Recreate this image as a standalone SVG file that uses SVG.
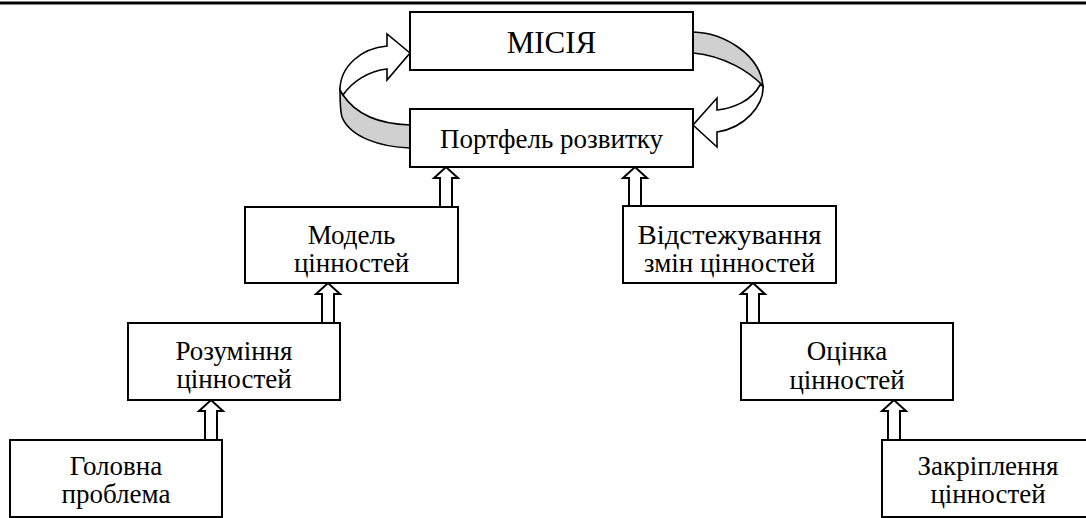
<svg xmlns="http://www.w3.org/2000/svg" width="1086" height="518" viewBox="0 0 1086 518">
<style>
.box{fill:#fff;stroke:#000;stroke-width:2}
.t{font-family:"Liberation Serif","Times New Roman",serif;font-size:27px;fill:#000;text-anchor:middle}
.big{font-size:31px}
.ha{fill:#fff;stroke:#000;stroke-width:2;stroke-linejoin:miter}
.cv{stroke:#000;stroke-width:1.6;stroke-linejoin:miter}
</style>
<rect x="0" y="0" width="1086" height="518" fill="#fff"/>
<line x1="0" y1="3" x2="1086" y2="3" stroke="#000" stroke-width="3"/>
<g id="connectors">
  <path class="cv" fill="#d0d0d0" d="M343,95 C355,113 378,124 410,125 L410,148 C380,147 350,137 342,117 C340,110 340,98 340,90 Z"/>
  <path class="cv" fill="#fff" d="M387,69 L387,80 L410,53 L387,34 L387,46 C362,48 340,66 340,90 L343,95 C352,82 368,71 387,69 Z"/>
  <path class="cv" fill="#d0d0d0" d="M693,32 C725,33 760,55 763,86 C750,72 725,56 693,53 Z"/>
  <path class="cv" fill="#fff" d="M763,86 C764,105 745,128 717,132 L717,147 L693,125 L717,98 L717,110 C735,108 752,100 760,85 Z"/>
  <path class="ha" d="M440,207 L440,178 L434,178 L446,167 L458,178 L452,178 L452,207"/>
  <path class="ha" d="M629,206 L629,178 L623,178 L635,167 L647,178 L641,178 L641,206"/>
  <path class="ha" d="M322,323 L322,294 L316,294 L328,283 L340,294 L334,294 L334,323"/>
  <path class="ha" d="M747,323 L747,294 L741,294 L753,283 L765,294 L759,294 L759,323"/>
  <path class="ha" d="M205,440 L205,411 L199,411 L211,400 L223,411 L217,411 L217,440"/>
  <path class="ha" d="M888,440 L888,411 L882,411 L894,400 L906,411 L900,411 L900,440"/>
</g>
<g id="misiia">
  <rect class="box" x="410" y="12" width="283" height="58"/>
  <text class="t big" x="551.5" y="53">МІСІЯ</text>
</g>
<g id="portfel">
  <rect class="box" x="410" y="109" width="283" height="58"/>
  <text class="t" x="551.5" y="148">Портфель розвитку</text>
</g>
<g id="model">
  <rect class="box" x="245" y="207" width="213" height="76"/>
  <text class="t" x="351.5" y="244">Модель</text>
  <text class="t" x="351.5" y="272">цінностей</text>
</g>
<g id="vidstezhuvannia">
  <rect class="box" x="623" y="206" width="213" height="77"/>
  <text class="t" x="729.5" y="244" textLength="184" lengthAdjust="spacingAndGlyphs">Відстежування</text>
  <text class="t" x="729.5" y="272">змін цінностей</text>
</g>
<g id="rozuminnia">
  <rect class="box" x="128" y="323" width="212" height="77"/>
  <text class="t" x="234" y="360">Розуміння</text>
  <text class="t" x="234" y="388">цінностей</text>
</g>
<g id="otsinka">
  <rect class="box" x="741" y="323" width="212" height="77"/>
  <text class="t" x="847" y="360">Оцінка</text>
  <text class="t" x="847" y="389">цінностей</text>
</g>
<g id="holovna">
  <rect class="box" x="10" y="440" width="212" height="77"/>
  <text class="t" x="116" y="475">Головна</text>
  <text class="t" x="116" y="503">проблема</text>
</g>
<g id="zakriplennia">
  <rect class="box" x="882" y="440" width="212" height="77"/>
  <text class="t" x="988" y="475">Закріплення</text>
  <text class="t" x="988" y="503">цінностей</text>
</g>
</svg>
